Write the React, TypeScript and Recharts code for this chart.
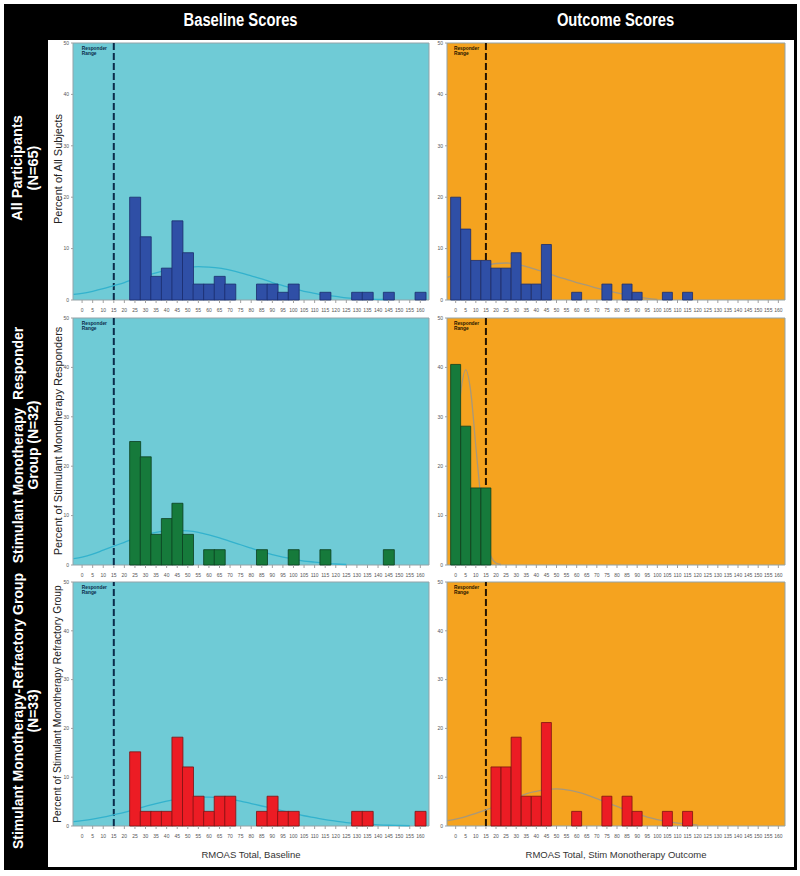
import React from "react";
import { Bar, CartesianGrid, ComposedChart, Line, ReferenceLine, XAxis, YAxis } from "recharts";

// histogram bins (midpoints) shared by every panel
const scoreBins = [0, 5, 10, 15, 20, 25, 30, 35, 40, 45, 50, 55, 60, 65, 70, 75, 80, 85, 90, 95, 100, 105, 110, 115, 120, 125, 130, 135, 140, 145, 150, 155, 160];
const percentTicks = [0, 10, 20, 30, 40, 50];

// percent of group per bin
const allBaseline = [0, 0, 0, 0, 0, 20.0, 12.3, 4.6, 6.2, 15.4, 9.2, 3.1, 3.1, 4.6, 3.1, 0, 0, 3.1, 3.1, 1.5, 3.1, 0, 0, 1.5, 0, 0, 1.5, 1.5, 0, 1.5, 0, 0, 1.5];
const allOutcome = [20.0, 13.8, 7.7, 7.7, 6.2, 6.2, 9.2, 3.1, 3.1, 10.8, 0, 0, 1.5, 0, 0, 3.1, 0, 3.1, 1.5, 0, 0, 1.5, 0, 1.5, 0, 0, 0, 0, 0, 0, 0, 0, 0];
const responderBaseline = [0, 0, 0, 0, 0, 25.0, 21.9, 6.2, 9.4, 12.5, 6.2, 0, 3.1, 3.1, 0, 0, 0, 3.1, 0, 0, 3.1, 0, 0, 3.1, 0, 0, 0, 0, 0, 3.1, 0, 0, 0];
const responderOutcome = [40.6, 28.1, 15.6, 15.6, 0, 0, 0, 0, 0, 0, 0, 0, 0, 0, 0, 0, 0, 0, 0, 0, 0, 0, 0, 0, 0, 0, 0, 0, 0, 0, 0, 0, 0];
const refractoryBaseline = [0, 0, 0, 0, 0, 15.2, 3.0, 3.0, 3.0, 18.2, 12.1, 6.1, 3.0, 6.1, 6.1, 0, 0, 3.0, 6.1, 3.0, 3.0, 0, 0, 0, 0, 0, 3.0, 3.0, 0, 0, 0, 0, 3.0];
const refractoryOutcome = [0, 0, 0, 0, 12.1, 12.1, 18.2, 6.1, 6.1, 21.2, 0, 0, 3.0, 0, 0, 6.1, 0, 6.1, 3.0, 0, 0, 3.0, 0, 3.0, 0, 0, 0, 0, 0, 0, 0, 0, 0];

// normal curve overlays
const curveScores = [-4, 0, 5, 10, 15, 20, 25, 30, 35, 40, 45, 50, 55, 60, 65, 70, 75, 80, 85, 90, 95, 100, 105, 110, 115, 120, 125, 130, 135, 140, 145, 150, 155, 160];
const allBaselineCurve = [1.1, 1.3, 1.7, 2.2, 2.8, 3.4, 4.1, 4.7, 5.3, 5.8, 6.2, 6.4, 6.5, 6.4, 6.2, 5.8, 5.3, 4.7, 4.1, 3.4, 2.8, 2.2, 1.7, 1.3, 0.9, 0.7, 0.4, 0.3, 0.2, 0.1, 0.1, null, null, null];
const allOutcomeCurve = [4.4, 5.0, 5.7, 6.3, 6.8, 7.1, 7.2, 7.0, 6.5, 5.9, 5.3, 4.6, 4.0, 3.4, 2.9, 2.3, 1.8, 1.4, 1.0, 0.6, 0.3, 0.1, null, null, null, null, null, null, null, null, null, null, null, null];
const responderBaselineCurve = [1.3, 1.6, 2.2, 3.0, 3.8, 4.6, 5.4, 6.1, 6.6, 6.9, 7.0, 6.9, 6.6, 6.1, 5.5, 4.8, 4.1, 3.4, 2.7, 2.1, 1.6, 1.2, 0.8, 0.6, 0.4, 0.2, 0.1, null, null, null, null, null, null, null];
const responderOutcomeScores = [-2, 0, 2.5, 5, 7.5, 10, 12.5, 15, 17.5, 20, 22.5];
const responderOutcomeCurve = [13, 24, 35, 39.5, 35, 24, 13.5, 5.5, 1.7, 0.4, 0.1];
const refractoryBaselineCurve = [0.9, 1.1, 1.4, 1.8, 2.3, 2.8, 3.4, 4.0, 4.6, 5.1, 5.5, 5.8, 5.9, 5.9, 5.8, 5.5, 5.1, 4.6, 4.1, 3.6, 3.1, 2.6, 2.1, 1.7, 1.3, 1.0, 0.7, 0.5, 0.4, 0.25, 0.15, 0.1, 0.05, null];
const refractoryOutcomeCurve = [1.1, 1.4, 1.9, 2.6, 3.3, 4.1, 5.0, 5.8, 6.6, 7.1, 7.5, 7.6, 7.4, 7.0, 6.4, 5.6, 4.8, 4.0, 3.2, 2.5, 1.8, 1.3, 0.9, 0.6, 0.4, 0.2, null, null, null, null, null, null, null, null];

const FONT = "'Liberation Sans', Arial, Helvetica, sans-serif";

const CYAN = "#6fcbd6";
const ORANGE = "#f5a31f";

function ResponderLabel(props: any) {
  const { viewBox, color } = props;
  const x = viewBox.x - 32;
  const y = viewBox.y + 6.5;
  return (
    <text transform={`translate(${x},${y}) scale(0.78,1)`} fontSize={6.2} fontWeight="bold" fill={color} fontFamily={FONT}>
      <tspan x={0} dy={0}>Responder</tspan>
      <tspan x={0} dy={5.5}>Range</tspan>
    </text>
  );
}

type PanelProps = {
  left: number;
  top: number;
  width: number;
  height: number;
  xMax: number;
  bg: string;
  values: number[];
  curveX: number[];
  curveY: (number | null)[];
  barFill: string;
  barStroke: string;
  curveColor: string;
  refColor: string;
};

function HistPanel(p: PanelProps) {
  const bars = scoreBins.map((x, i) => ({ x, pct: p.values[i] }));
  const curve = p.curveX.map((x, i) => ({ x, y: p.curveY[i] }));
  const tickStyle = { fontSize: 5, fill: "#555", fontFamily: FONT };
  return (
    <div style={{ position: "absolute", left: p.left - 25, top: p.top - 4 }}>
      <ComposedChart
        width={p.width + 29}
        height={p.height + 20}
        data={bars}
        margin={{ top: 4, right: 4, bottom: 0, left: 0 }}
        barCategoryGap={0}
        barGap={0}
      >
        <CartesianGrid
          xAxisId="h"
          fill={p.bg}
          fillOpacity={1}
          stroke="#93a3a8"
          horizontalCoordinatesGenerator={({ offset }: any) => [offset.top, offset.top + offset.height]}
          verticalCoordinatesGenerator={({ offset }: any) => [offset.left, offset.left + offset.width]}
        />
        <XAxis
          xAxisId="h"
          dataKey="x"
          type="number"
          domain={[-4.3, p.xMax]}
          allowDataOverflow
          ticks={scoreBins}
          interval={0}
          height={16}
          axisLine={false}
          tickSize={3}
          tickMargin={5}
          tickLine={{ stroke: "#a0a0a0" }}
          tick={tickStyle}
        />
        <XAxis xAxisId="c" dataKey="x" type="number" orientation="top" height={0} domain={[-4.3, p.xMax]} allowDataOverflow hide />
        <YAxis
          domain={[0, 50]}
          ticks={percentTicks}
          width={25}
          axisLine={false}
          tickSize={2}
          tickMargin={2}
          tickLine={{ stroke: "#a0a0a0" }}
          tick={tickStyle}
        />
        <ReferenceLine
          xAxisId="h"
          x={15}
          stroke={p.refColor}
          strokeWidth={2}
          strokeDasharray="7 3"
          label={<ResponderLabel color={p.refColor} />}
          zIndex={250}
        />
        <Line
          xAxisId="c"
          data={curve}
          dataKey="y"
          type="monotone"
          stroke={p.curveColor}
          strokeWidth={1.3}
          dot={false}
          activeDot={false}
          isAnimationActive={false}
          zIndex={260}
        />
        <Bar xAxisId="h" dataKey="pct" fill={p.barFill} stroke={p.barStroke} strokeWidth={0.8} isAnimationActive={false} />
      </ComposedChart>
    </div>
  );
}

function Rotated({ cx, cy, size, color, weight, children }: any) {
  return (
    <div
      style={{
        position: "absolute",
        left: cx,
        top: cy,
        transform: "translate(-50%, -50%) rotate(-90deg)",
        whiteSpace: "nowrap",
        textAlign: "center",
        fontFamily: FONT,
        fontSize: size,
        fontWeight: weight,
        color,
        lineHeight: 1.1,
      }}
    >
      {children}
    </div>
  );
}

function Header({ cx, children }: any) {
  return (
    <div style={{ position: "absolute", left: cx - 100, width: 200, top: 10, textAlign: "center" }}>
      <span style={{ display: "inline-block", transform: "scaleX(0.82)", color: "#fff", fontFamily: FONT, fontWeight: "bold", fontSize: 18 }}>
        {children}
      </span>
    </div>
  );
}

const LEFT = { left: 73, width: 356, xMax: 164.1 };
const RIGHT = { left: 447, width: 338, xMax: 163.3 };
const ROWS = [
  { top: 43, height: 257 },
  { top: 318, height: 247 },
  { top: 582, height: 244 },
];

export default function App() {
  const cyanPanel = { bg: CYAN, curveColor: "#33b2cd", refColor: "#0b2b4a" };
  const orangePanel = { bg: ORANGE, curveColor: "#a8987a", refColor: "#241400" };
  const blue = { barFill: "#2f4fa6", barStroke: "#1a2c6c" };
  const green = { barFill: "#167a3b", barStroke: "#0b3f1f" };
  const red = { barFill: "#ec1c24", barStroke: "#7c1212" };

  return (
    <div style={{ position: "absolute", left: 0, top: 0, width: 800, height: 876, background: "#fff", overflow: "hidden" }}>
      <div style={{ position: "absolute", left: 4, top: 4, width: 793, height: 866, background: "#000" }} />
      <div style={{ position: "absolute", left: 48, top: 40, width: 746, height: 827, background: "#fff" }} />

      <Header cx={241}>Baseline Scores</Header>
      <Header cx={616}>Outcome Scores</Header>

      <Rotated cx={26} cy={168} size={14.5} color="#fff" weight="bold">
        All Participants<br />(N=65)
      </Rotated>
      <Rotated cx={26} cy={445} size={14} color="#fff" weight="bold">
        Stimulant Monotherapy&nbsp;&nbsp;Responder<br />Group (N=32)
      </Rotated>
      <Rotated cx={26} cy={711} size={14} color="#fff" weight="bold">
        Stimulant Monotherapy-Refractory Group<br />(N=33)
      </Rotated>

      <Rotated cx={58} cy={169} size={11} color="#222" weight="normal">Percent of All Subjects</Rotated>
      <Rotated cx={58} cy={441} size={11} color="#222" weight="normal">Percent of Stimulant Monotherapy Responders</Rotated>
      <Rotated cx={58} cy={704} size={10.3} color="#222" weight="normal">Percent of Stimulant Monotherapy Refractory Group</Rotated>

      <HistPanel {...LEFT} {...ROWS[0]} {...cyanPanel} {...blue} values={allBaseline} curveX={curveScores} curveY={allBaselineCurve} />
      <HistPanel {...RIGHT} {...ROWS[0]} {...orangePanel} {...blue} values={allOutcome} curveX={curveScores} curveY={allOutcomeCurve} />
      <HistPanel {...LEFT} {...ROWS[1]} {...cyanPanel} {...green} values={responderBaseline} curveX={curveScores} curveY={responderBaselineCurve} />
      <HistPanel {...RIGHT} {...ROWS[1]} {...orangePanel} {...green} values={responderOutcome} curveX={responderOutcomeScores} curveY={responderOutcomeCurve} />
      <HistPanel {...LEFT} {...ROWS[2]} {...cyanPanel} {...red} values={refractoryBaseline} curveX={curveScores} curveY={refractoryBaselineCurve} />
      <HistPanel {...RIGHT} {...ROWS[2]} {...orangePanel} {...red} values={refractoryOutcome} curveX={curveScores} curveY={refractoryOutcomeCurve} />

      <div style={{ position: "absolute", left: 151, width: 200, top: 849, textAlign: "center", fontFamily: FONT, fontSize: 9.5, color: "#333" }}>
        RMOAS Total, Baseline
      </div>
      <div style={{ position: "absolute", left: 466, width: 300, top: 849, textAlign: "center", fontFamily: FONT, fontSize: 9.5, color: "#333" }}>
        RMOAS Total, Stim Monotherapy Outcome
      </div>
    </div>
  );
}
